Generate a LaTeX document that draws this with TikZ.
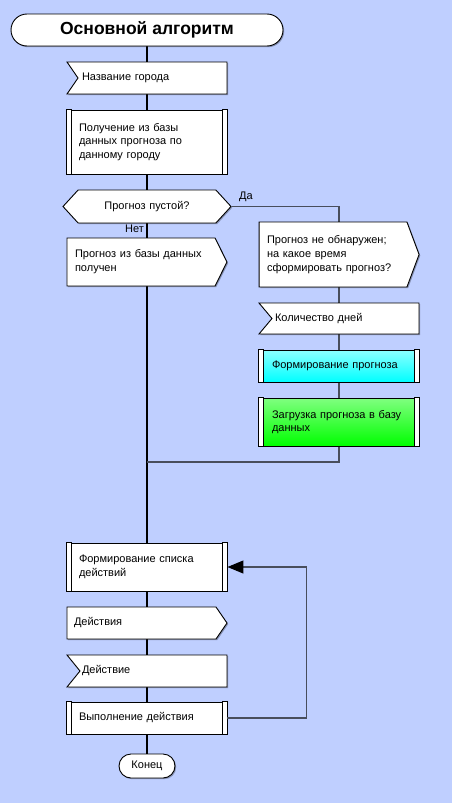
\documentclass[tikz,border=0pt]{standalone}
\usepackage{fontspec}
\setmainfont{Liberation Sans}
\usetikzlibrary{shapes.symbols,arrows.meta,backgrounds,shadows}
\definecolor{fon}{RGB}{191,207,255}
\definecolor{vetka}{RGB}{72,78,92}
\tikzset{
    blok/.style={
           rectangle,
           draw=black, line width=0.9pt,
           fill=white,
           drop shadow={shadow xshift=1.2pt, shadow yshift=-1.2pt, fill=black, opacity=0.3},
           inner xsep=0pt, inner ysep=0pt,
           minimum width=160pt,
           align=left,
           font=\fontsize{11}{13.8}\selectfont},
    podpr/.style={blok},% predefined process, side strips drawn below
    vvod/.style={blok, shape=signal, signal from=west, signal to=nowhere},
    vyvod/.style={blok, shape=signal, signal to=east},
    uslovie/.style={blok, shape=signal, signal to=west and east,
           signal pointer angle=95, align=center},
    terminal/.style={blok, rectangle, align=center},
    glavn/.style={line width=2.6pt, black},
    vetv/.style={line width=1.1pt, vetka},
    metka/.style={inner sep=0pt, font=\fontsize{11}{13}\selectfont}
    }
\begin{document}
\begin{tikzpicture}[x=1pt,y=-1pt]
\useasboundingbox (0,0) rectangle (452,803);
% left column
\node[terminal, minimum width=272pt, minimum height=32pt, rounded corners=16pt,
      font=\fontsize{17.5}{20}\selectfont\bfseries] (nachalo) at (147,30) {Основной алгоритм};
\node[vvod, signal pointer angle=111, minimum height=32pt, text width=141pt] (gorod) at (152.5,78) {Название города};
\node[podpr, minimum height=64pt, text width=136pt] (poluch) at (147,142) {Получение из базы\\данных прогноза по\\данному городу};
\node[uslovie, minimum width=168pt, minimum height=33pt, text width=120pt] (pusto) at (147,206.5) {Прогноз пустой?};
\node[vyvod, signal pointer angle=127, minimum height=48pt, text width=132pt] (est) at (141,262) {Прогноз из базы данных\\получен};
% right column
\node[vyvod, signal pointer angle=139, minimum height=65pt, text width=132pt] (net) at (333,254.5) {Прогноз не обнаружен;\\на какое время\\сформировать прогноз?};
\node[vvod, signal pointer angle=100, minimum height=31pt, text width=141pt] (dni) at (345.5,318.5) {Количество дней};
\node[podpr, minimum height=32pt, text width=134pt, top color=cyan!45!white, bottom color=cyan] (formir) at (339,366) {Формирование прогноза};
\node[podpr, minimum height=48pt, text width=134pt, top color=green!50!white, bottom color=green] (zagruz) at (339,422) {Загрузка прогноза в базу\\данных};
\coordinate (sliyanie) at (147,462);
% actions
\node[podpr, minimum height=48pt, text width=136pt] (spisok) at (147,567) {Формирование списка\\действий};
\node[vyvod, signal pointer angle=111, minimum height=32pt, text width=135pt] (deistviya) at (141.5,623) {Действия};
\node[vvod, signal pointer angle=102, minimum height=32pt, text width=143pt] (deistvie) at (153.5,671) {Действие};
\node[podpr, minimum height=32pt, text width=136pt] (vypoln) at (147,718) {Выполнение действия};
\node[terminal, minimum width=56pt, minimum height=24pt, rounded corners=12pt] (konec) at (147,766) {Конец};

\foreach \n in {poluch,formir,zagruz,spisok,vypoln}{
  \draw[line width=0.9pt, fill=white] (\n.north west) rectangle ([xshift=5pt]\n.south west);
  \draw[line width=0.9pt, fill=white] (\n.north east) rectangle ([xshift=-5pt]\n.south east);
}

\node[metka, anchor=west] (da) at (239,197) {Да};
\node[metka, anchor=east] (netm) at (144,229) {Нет};

\draw[vetv, -{Triangle[length=16pt,width=13pt,color=black]}] (vypoln.east) -- ++(79,0) |- (spisok.east);

\begin{pgfonlayer}{background}
\fill[fon] (0,0) rectangle (452,803);
\draw[glavn] (nachalo.south) -- (konec.north);
\draw[vetv] (pusto.east) -| (zagruz.north);
\draw[vetv] (zagruz.south) |- (sliyanie);
\end{pgfonlayer}
\end{tikzpicture}
\end{document}
